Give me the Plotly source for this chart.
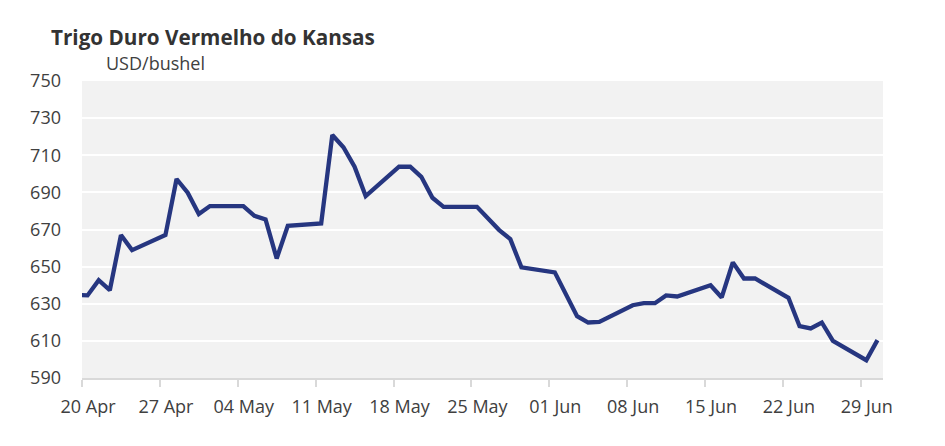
import plotly.graph_objects as go
import pandas as pd

# trading days (value plotted at midday, like the source chart)
dates = [
    "2020-04-17", "2020-04-20", "2020-04-21", "2020-04-22", "2020-04-23", "2020-04-24",
    "2020-04-27", "2020-04-28", "2020-04-29", "2020-04-30", "2020-05-01",
    "2020-05-04", "2020-05-05", "2020-05-06", "2020-05-07", "2020-05-08",
    "2020-05-11", "2020-05-12", "2020-05-13", "2020-05-14", "2020-05-15",
    "2020-05-18", "2020-05-19", "2020-05-20", "2020-05-21", "2020-05-22",
    "2020-05-25", "2020-05-26", "2020-05-27", "2020-05-28", "2020-05-29",
    "2020-06-01", "2020-06-02", "2020-06-03", "2020-06-04", "2020-06-05",
    "2020-06-08", "2020-06-09", "2020-06-10", "2020-06-11", "2020-06-12",
    "2020-06-15", "2020-06-16", "2020-06-17", "2020-06-18", "2020-06-19",
    "2020-06-22", "2020-06-23", "2020-06-24", "2020-06-25", "2020-06-26",
    "2020-06-29", "2020-06-30",
]
prices = [
    635.5, 634.5, 642.7, 637.3, 667.0, 658.9,
    667.0, 697.2, 689.8, 678.3, 682.6,
    682.6, 677.4, 675.4, 654.4, 672.0,
    673.3, 720.9, 714.3, 703.8, 688.0,
    703.8, 703.8, 698.4, 687.1, 682.2,
    682.2, 676.0, 669.7, 664.8, 649.6,
    646.9, 634.6, 623.3, 619.9, 620.2,
    629.2, 630.3, 630.3, 634.5, 633.9,
    640.0, 633.4, 652.3, 643.6, 643.6,
    633.2, 617.9, 616.7, 619.9, 610.0,
    599.6, 610.4,
]
tick_dates = ["2020-04-20", "2020-04-27", "2020-05-04", "2020-05-11", "2020-05-18",
              "2020-05-25", "2020-06-01", "2020-06-08", "2020-06-15", "2020-06-22",
              "2020-06-29"]
tick_labels = ["20 Apr", "27 Apr", "04 May", "11 May", "18 May", "25 May",
               "01 Jun", "08 Jun", "15 Jun", "22 Jun", "29 Jun"]
y_ticks = [590, 610, 630, 650, 670, 690, 710, 730, 750]

x = pd.to_datetime(dates) + pd.Timedelta(hours=12)

fig = go.Figure()
fig.add_trace(go.Scatter(x=x, y=prices, mode="lines",
                         line=dict(color="#263680", width=4.3), hoverinfo="skip"))

txt = "#404040"
# page body has an 8px margin, so the figure is 8px smaller each way
fig.update_layout(
    width=937, height=438,
    margin=dict(l=74, r=62, t=73, b=68),
    paper_bgcolor="white", plot_bgcolor="#f2f2f2",
    font=dict(family="Open Sans", size=18, color=txt),
    showlegend=False,
    annotations=[
        dict(text="<b>Trigo Duro Vermelho do Kansas</b>", xref="paper", yref="paper",
             x=-0.0412, y=1.0, yshift=44, xanchor="left", yanchor="middle",
             showarrow=False, font=dict(size=20.7, color="#333333")),
        dict(text="USD/bushel", xref="paper", yref="paper",
             x=0.0275, y=1.0, yshift=18, xanchor="left", yanchor="middle",
             showarrow=False, font=dict(size=18, color=txt)),
    ],
)
fig.update_xaxes(
    type="date", range=["2020-04-20", "2020-07-01"],
    tickvals=pd.to_datetime(tick_dates), ticktext=tick_labels,
    showgrid=False, zeroline=False,
    showline=True, linecolor="#d9d9d9", linewidth=2,
    ticks="outside", ticklen=7, tickwidth=2, tickcolor="#d9d9d9",
    ticklabelshift=6, ticklabelstandoff=4,
    tickfont=dict(size=18, color=txt),
)
fig.update_yaxes(
    range=[590, 750], tickvals=y_ticks,
    showgrid=True, gridcolor="white", gridwidth=2,
    zeroline=False, showline=False, ticks="",
    ticklabelstandoff=20,
    tickfont=dict(size=18, color=txt),
)

fig.write_html("out.html")
